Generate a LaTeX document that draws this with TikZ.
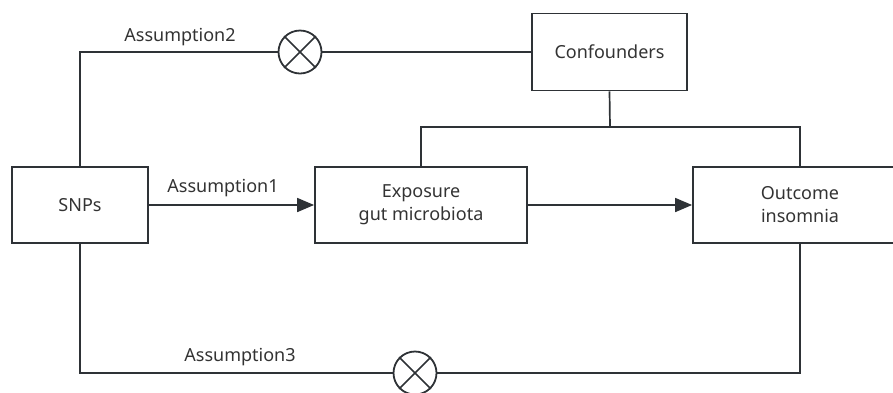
\documentclass[tikz,border=0pt]{standalone}
\usepackage{fontspec}
\setmainfont{Noto Sans}
\usetikzlibrary{arrows.meta}

\definecolor{linegray}{HTML}{2E3236}
\definecolor{textgray}{HTML}{333333}

\tikzset{
  box/.style={draw=linegray, line width=1.8pt, minimum height=76pt, inner sep=0pt,
    align=center, text=textgray, font=\fontsize{18}{23}\selectfont},
  crossmark/.style={draw=linegray, line width=1.8pt, circle, minimum size=43pt, inner sep=0pt},
  wire/.style={draw=linegray, line width=1.7pt},
  tag/.style={text=textgray, font=\fontsize{18}{20}\selectfont}
}

\begin{document}
\begin{tikzpicture}[x=1pt, y=-1pt]
\useasboundingbox (0,0) rectangle (893,392);

% boxes
\node[box, minimum width=136pt] (snp) at (80,205) {SNPs};
\node[box, minimum width=212pt] (exp) at (421,205) {Exposure\\gut microbiota};
\node[box, minimum width=214pt] (out) at (800,205) {Outcome\\insomnia};
\node[box, minimum width=155pt, minimum height=77pt] (conf) at (609.5,52) {Confounders};

% crossed circles
\node[crossmark] (c2) at (300,52) {};
\draw[wire] (c2.north west) -- (c2.south east);
\draw[wire] (c2.north east) -- (c2.south west);
\node[crossmark] (c3) at (415,373) {};
\draw[wire] (c3.north west) -- (c3.south east);
\draw[wire] (c3.north east) -- (c3.south west);

\coordinate (j) at (610,127);

% assumption 1
\draw[wire, -{Triangle[length=17pt,width=14pt]}] (snp.east) -- (exp.west);
\node[tag] (a1) at (223,188) {Assumption1};
\draw[wire, -{Triangle[length=17pt,width=14pt]}] (exp.east) -- (out.west);

% assumption 2
\draw[wire] (snp.north) |- (c2.west);
\draw[wire] (c2.east) -- (conf.west);
\node[tag] (a2) at (180,37) {Assumption2};

% confounders
\draw[wire] (conf.south) -- (j);
\draw[wire] (exp.north) |- (j) -| (out.north);

% assumption 3
\draw[wire] (snp.south) |- (c3.west);
\draw[wire] (c3.east) -| (out.south);
\node[tag] (a3) at (240,357) {Assumption3};
\end{tikzpicture}
\end{document}
